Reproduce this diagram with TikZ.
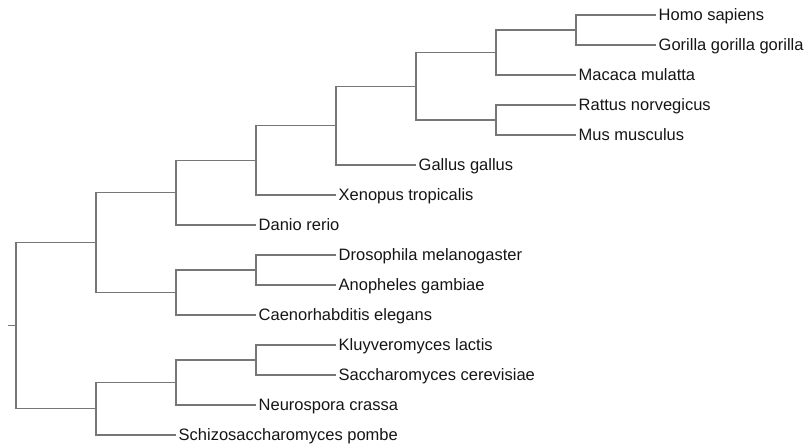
\documentclass[tikz,border=0pt]{standalone}
\usepackage{fontspec}
\setmainfont{Liberation Sans}
\usetikzlibrary{positioning,calc}
\definecolor{cBranch}{HTML}{767676}
\definecolor{cLabel}{HTML}{151515}

\begin{document}
\begin{tikzpicture}[x=1pt,y=-1pt,
  branch/.style={draw=cBranch,line width=1.1pt},
  taxon/.style={anchor=west,inner xsep=2.5pt,inner ysep=0pt,text height=11.8pt,
                text depth=0pt,font=\fontsize{16.5}{18}\selectfont,text=cLabel}]
\def\d{80}   % depth pitch
\def\r{30}   % row pitch
\useasboundingbox (0,0) rectangle (808,445);

% row/depth/name/label
\foreach \i/\k/\n/\t in {%
  0/8/homo/{Homo sapiens},
  1/8/gorilla/{Gorilla gorilla gorilla},
  2/7/macaca/{Macaca mulatta},
  3/7/rattus/{Rattus norvegicus},
  4/7/mus/{Mus musculus},
  5/5/gallus/{Gallus gallus},
  6/4/xenopus/{Xenopus tropicalis},
  7/3/danio/{Danio rerio},
  8/4/droso/{Drosophila melanogaster},
  9/4/anoph/{Anopheles gambiae},
  10/3/caeno/{Caenorhabditis elegans},
  11/4/kluyv/{Kluyveromyces lactis},
  12/4/sacch/{Saccharomyces cerevisiae},
  13/3/neuro/{Neurospora crassa},
  14/2/schizo/{Schizosaccharomyces pombe}}
  \node[taxon] (\n) at ({16+\k*\d},{15+\i*\r}) {\t};

% clades, one depth step left of the middle of their children
\coordinate (primJ) at ($(homo.west)!.5!(gorilla.west)+(-\d,0)$);
\coordinate (primH) at ($(primJ)!.5!(macaca.west)+(-\d,0)$);
\coordinate (rodI)  at ($(rattus.west)!.5!(mus.west)+(-\d,0)$);
\coordinate (mamG)  at ($(primH)!.5!(rodI)+(-\d,0)$);
\coordinate (amnF)  at ($(mamG)!.5!(gallus.west)+(-\d,0)$);
\coordinate (tetE)  at ($(amnF)!.5!(xenopus.west)+(-\d,0)$);
\coordinate (vertC) at ($(tetE)!.5!(danio.west)+(-\d,0)$);
\coordinate (dipK)  at ($(droso.west)!.5!(anoph.west)+(-\d,0)$);
\coordinate (invD)  at ($(dipK)!.5!(caeno.west)+(-\d,0)$);
\coordinate (animA) at ($(vertC)!.5!(invD)+(-\d,0)$);
\coordinate (sacM)  at ($(kluyv.west)!.5!(sacch.west)+(-\d,0)$);
\coordinate (ascL)  at ($(sacM)!.5!(neuro.west)+(-\d,0)$);
\coordinate (fungB) at ($(ascL)!.5!(schizo.west)+(-\d,0)$);
\coordinate (root)  at ($(animA)!.5!(fungB)+(-\d,0)$);
\coordinate (stub)  at ($(root)+(-8,0)$);

% branches to leaves
\foreach \p/\c in {primJ/homo,primJ/gorilla,primH/macaca,rodI/rattus,rodI/mus,
                   amnF/gallus,tetE/xenopus,vertC/danio,dipK/droso,dipK/anoph,
                   invD/caeno,sacM/kluyv,sacM/sacch,ascL/neuro,fungB/schizo}
  \draw[branch] (\p) |- (\c.west);
% branches between clades
\foreach \p/\c in {primH/primJ,mamG/primH,mamG/rodI,amnF/mamG,tetE/amnF,
                   vertC/tetE,animA/vertC,invD/dipK,animA/invD,ascL/sacM,
                   fungB/ascL,root/animA,root/fungB}
  \draw[branch] (\p) |- (\c);
\draw[branch] (stub) -- (root);
\end{tikzpicture}
\end{document}
